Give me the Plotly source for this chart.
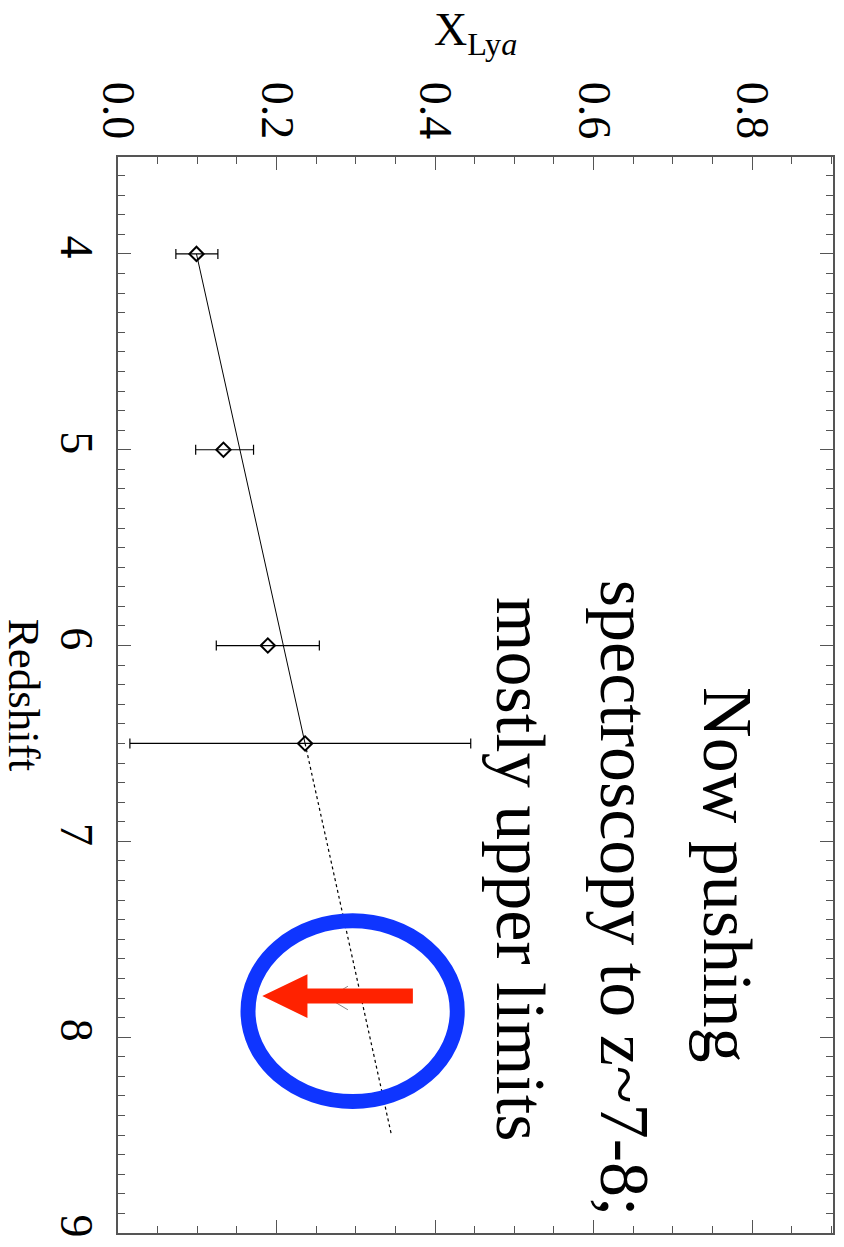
import plotly.graph_objects as go

# Measured Ly-alpha fraction versus redshift
redshift = [4.0, 5.0, 6.0, 6.5]
x_lya = [0.099, 0.133, 0.189, 0.236]
err_plus = [0.027, 0.038, 0.065, 0.209]
err_minus = [0.026, 0.035, 0.065, 0.221]

# Linear trend: solid over the measured range, dotted extrapolation
fit_z = [4.0, 6.5]
fit_x = [0.099, 0.236]
extrap_z = [6.5, 8.5]
extrap_x = [0.236, 0.345]

# Faint upper-limit marker at z~7.8
ul_z = [7.8]
ul_x = [0.265]

# Highlight overlays (ellipse box and arrow geometry in data units)
ellipse_x = [0.164, 0.428]
ellipse_z = [7.406, 8.329]
arrow_tip_x, arrow_base_x, arrow_tail_x = 0.182, 0.239, 0.372
arrow_z, shaft_half, head_half = 7.79, 0.038, 0.112

x_ticks = [0.0, 0.2, 0.4, 0.6, 0.8]
z_ticks = [4, 5, 6, 7, 8, 9]

note_lines = ["Now pushing", "spectroscopy to z~7-8;", "mostly upper limits"]
note_x = [0.769, 0.640, 0.508]
note_z = [7.17, 7.29, 7.14]

SERIF = "Liberation Serif, Times New Roman, serif"

fig = go.Figure()

fig.add_trace(go.Scatter(
    x=fit_x, y=fit_z, mode="lines",
    line=dict(color="black", width=1), hoverinfo="skip", showlegend=False))
fig.add_trace(go.Scatter(
    x=extrap_x, y=extrap_z, mode="lines",
    line=dict(color="black", width=1.2, dash="dot"), hoverinfo="skip", showlegend=False))

# upper-limit chevron drawn as thin gray strokes
ul_lx, ul_ly = [], []
for zx, zz in zip(ul_x, ul_z):
    ul_lx += [zx + 0.025, zx, zx + 0.025, None]
    ul_ly += [zz - 0.06, zz, zz + 0.06, None]
fig.add_trace(go.Scatter(
    x=ul_lx, y=ul_ly, mode="lines",
    line=dict(color="#888888", width=1), hoverinfo="skip", showlegend=False))

fig.add_trace(go.Scatter(
    x=x_lya, y=redshift, mode="markers",
    marker=dict(symbol="diamond-open", size=11, color="black", line=dict(width=2, color="black")),
    error_x=dict(type="data", symmetric=False, array=err_plus, arrayminus=err_minus,
                 color="black", thickness=1.2, width=5),
    showlegend=False))

# blue ellipse
fig.add_shape(type="circle", xref="x", yref="y",
              x0=ellipse_x[0], x1=ellipse_x[1], y0=ellipse_z[0], y1=ellipse_z[1],
              line=dict(color="#0F35FF", width=15), layer="above")

# red arrow
path = (f"M {arrow_tail_x},{arrow_z - shaft_half} "
        f"L {arrow_base_x},{arrow_z - shaft_half} "
        f"L {arrow_base_x},{arrow_z - head_half} "
        f"L {arrow_tip_x},{arrow_z} "
        f"L {arrow_base_x},{arrow_z + head_half} "
        f"L {arrow_base_x},{arrow_z + shaft_half} "
        f"L {arrow_tail_x},{arrow_z + shaft_half} Z")
fig.add_shape(type="path", xref="x", yref="y", path=path,
              fillcolor="#FF2200", line=dict(color="#FF2200", width=0), layer="above")

for txt, nx, nz in zip(note_lines, note_x, note_z):
    fig.add_annotation(x=nx, y=nz, xref="x", yref="y", text=txt, textangle=90,
                       showarrow=False, xanchor="center", yanchor="middle",
                       font=dict(family=SERIF, size=70, color="black"))

fig.add_annotation(x=-0.131, y=0.5, xref="paper", yref="paper", text="Redshift",
                   textangle=90, showarrow=False, xanchor="center", yanchor="middle",
                   font=dict(family=SERIF, size=45, color="black"))
fig.add_annotation(x=0.5, y=1.115, xref="paper", yref="paper",
                   text="X<sub>Ly<i>a</i></sub>", showarrow=False,
                   xanchor="center", yanchor="middle",
                   font=dict(family=SERIF, size=46, color="black"))

axis_common = dict(
    showline=True, linecolor="#555555", linewidth=1.5, mirror="allticks",
    ticks="inside", ticklen=13, tickwidth=1, tickcolor="#555555",
    showgrid=False, zeroline=False, tickangle=90,
    tickfont=dict(family=SERIF, size=46, color="black"),
)

fig.update_xaxes(range=[0, 0.902], side="top", tickvals=x_ticks,
                 ticktext=[f"{v:.1f}" for v in x_ticks],
                 minor=dict(dtick=0.05, tick0=0, ticks="inside", ticklen=7,
                            tickcolor="#555555", showgrid=False),
                 ticklabelstandoff=0, **axis_common)
fig.update_yaxes(range=[9, 3.505], tickvals=z_ticks,
                 ticktext=[str(v) for v in z_ticks],
                 minor=dict(dtick=0.1, tick0=0, ticks="inside", ticklen=7,
                            tickcolor="#555555", showgrid=False),
                 ticklabelstandoff=0, **axis_common)

fig.update_layout(
    width=844, height=1247,
    margin=dict(l=118, r=9, t=157, b=14),
    paper_bgcolor="white", plot_bgcolor="white",
    showlegend=False,
)

fig.write_html("out.html")
